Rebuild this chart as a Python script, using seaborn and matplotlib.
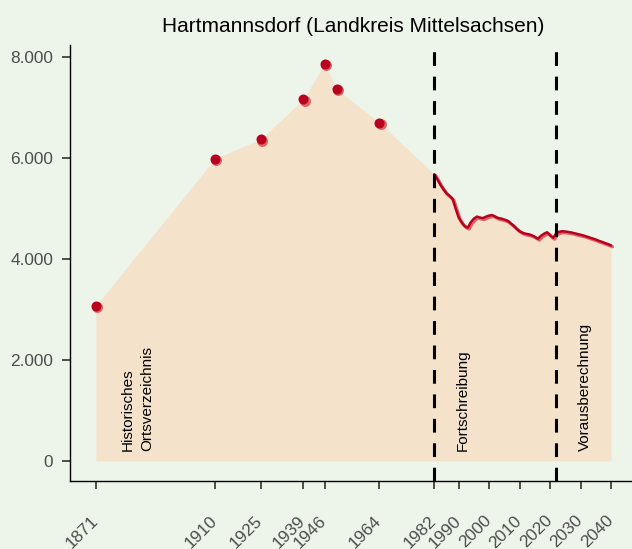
import numpy as np
import pandas as pd
import matplotlib
matplotlib.use('Agg')
import matplotlib.pyplot as plt
import matplotlib.transforms as mtransforms
from matplotlib.ticker import FuncFormatter
import seaborn as sns

title = 'Hartmannsdorf (Landkreis Mittelsachsen)'

# Historisches Ortsverzeichnis (Punkte)
years_hist = [1871, 1910, 1925, 1939, 1946, 1950, 1964]
pop_hist = [3075, 5986, 6370, 7162, 7861, 7366, 6700]

# Fortschreibung 1982-2022, Vorausberechnung bis 2040 (Linie)
years_line = list(range(1982, 2041))
pop_line = [5680, 5580, 5470, 5380, 5300, 5250, 5190, 5000, 4820, 4720,
            4650, 4620, 4730, 4800, 4840, 4820, 4810, 4840, 4860, 4870,
            4840, 4810, 4800, 4780, 4760, 4710, 4660, 4600, 4550, 4520,
            4500, 4490, 4470, 4440, 4400, 4460, 4500, 4530, 4470, 4420,
            4510, 4540, 4550, 4545, 4535, 4525, 4510, 4495, 4480, 4465,
            4445, 4425, 4405, 4385, 4360, 4340, 4315, 4295, 4270]

x_ticks = [1871, 1910, 1925, 1939, 1946, 1964, 1982, 1990, 2000, 2010, 2020, 2030, 2040]
y_ticks = [0, 2000, 4000, 6000, 8000]
breaks = [1982, 2022]
section_labels = ['Historisches\nOrtsverzeichnis', 'Fortschreibung', 'Vorausberechnung']
section_x = [1879, 1989, 2029]

bg = '#edf5eb'
area_col = '#f5e2cb'
dark_red = '#b8001f'
light_red = '#de6464'

df_hist = pd.DataFrame({'jahr': years_hist, 'einwohner': pop_hist})
df_line = pd.DataFrame({'jahr': years_line, 'einwohner': pop_line})
df_all = pd.concat([df_hist, df_line]).sort_values('jahr')

sns.set_theme(style='ticks')
plt.rcParams['font.family'] = ['Liberation Sans', 'DejaVu Sans']

fig = plt.figure(figsize=(6.32, 5.49), dpi=100, facecolor=bg)
ax = fig.add_axes([70/632, 68/549, 567/632, 436.2/549])
ax.set_facecolor(bg)

# Flaeche unter allen Werten
ax.fill_between(df_all['jahr'], df_all['einwohner'], 0, color=area_col, lw=0, zorder=1)

# Schatten leicht versetzt
shadow = mtransforms.offset_copy(ax.transData, fig=fig, x=1.4, y=-1.4, units='dots')
sns.lineplot(data=df_line, x='jahr', y='einwohner', color=light_red, lw=2.3,
             transform=shadow, ax=ax, zorder=3)
sns.lineplot(data=df_line, x='jahr', y='einwohner', color=dark_red, lw=1.8, ax=ax, zorder=4)
sns.scatterplot(data=df_hist, x='jahr', y='einwohner', color=light_red, s=62,
                linewidth=0, transform=shadow, ax=ax, zorder=3)
sns.scatterplot(data=df_hist, x='jahr', y='einwohner', color=dark_red, s=52,
                linewidth=0, ax=ax, zorder=4)

for b in breaks:
    ax.axvline(b, color='black', lw=2.2, linestyle=(0, (4.5, 3.5)), zorder=5)

for xs, lab in zip(section_x, section_labels):
    ax.text(xs, 200, lab, rotation=90, ha='left', va='bottom', multialignment='left',
            fontsize=11, color='black', linespacing=1.55, zorder=6)

ax.set_xlim(1862.5, 2048.5)
ax.set_ylim(-396, 8242)
ax.set_xticks(x_ticks)
ax.set_yticks(y_ticks)
ax.yaxis.set_major_formatter(FuncFormatter(lambda v, p: '{:,.0f}'.format(v).replace(',', '.')))
ax.set_xlabel('')
ax.set_ylabel('')
ax.set_title(title, fontsize=15, pad=9, color='black')

sns.despine(ax=ax)
for s in ['left', 'bottom']:
    ax.spines[s].set_color('black')
    ax.spines[s].set_linewidth(1.0)
ax.tick_params(axis='both', length=6, width=1.2, color='#333333', labelcolor='#4d4d4d',
               labelsize=12.4)
ax.tick_params(axis='y', pad=6)
ax.tick_params(axis='x', pad=17)
shift = mtransforms.ScaledTranslation(5/100, 0, fig.dpi_scale_trans)
for lab in ax.get_xticklabels():
    lab.set_rotation(45)
    lab.set_ha('right')
    lab.set_va('top')
    lab.set_transform(lab.get_transform() + shift)

fig.savefig('out.png', dpi=100, facecolor=bg)
